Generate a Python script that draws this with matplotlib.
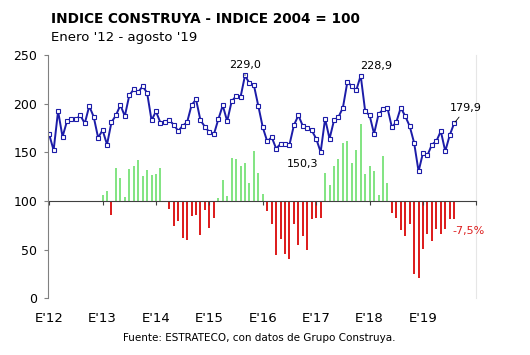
from matplotlib import pyplot as plt
import numpy as np

# Indice Construya, monthly, Jan 2012 .. Aug 2019
indice = [168.4, 152.2, 192.4, 166, 182, 183.8, 183.8, 188, 179.7, 197.5, 186.6, 165,
          172.8, 158, 181, 188, 198.6, 187.2, 208.6, 214.7, 212, 217.8, 211.3, 183,
          192, 180.4, 180.7, 183, 178.3, 172, 177.3, 181, 198.6, 204.4, 182.8, 176.3,
          170.7, 168.4, 183.8, 198.2, 182, 202.4, 207.8, 206.8, 229.0, 221, 219, 197.5,
          175.6, 161.2, 165.6, 153.9, 158.8, 158.8, 158, 178, 188, 177, 174.5, 172.5,
          164, 150.3, 184.5, 164, 182.8, 186.2, 195.9, 222.3, 218.1, 213.7, 228.9, 192.4,
          188, 169, 189, 194.1, 195.9, 175.9, 181, 195.9, 187.2, 177, 159.8, 130.5,
          149.5, 147, 158, 161.4, 171.8, 151.1, 167.6, 179.9]

# annual % change, Jan 2013 .. Aug 2019
var_anual = [2.3, 4.0, -5.8, 13.7, 9.3, 1.6, 13.2, 14.3, 16.8, 10.3, 12.8, 10.6, 11.0, 13.7,
             -0.2, -3.4, -10.3, -8.2, -15.1, -16.2, -6.2, -5.9, -14.0, -3.8, -11.3, -6.9,
             1.1, 8.7, 2.1, 17.5, 17.2, 14.4, 15.5, 7.3, 20.5, 11.7, 3.0,
             -4.1, -9.6, -22.3, -15.8, -21.6, -23.8, -9.6, -17.9, -14.4, -20.2, -7.3, -6.9, -6.9,
             11.4, 6.5, 14.4, 17.2, 23.8, 24.5, 15.5, 21.0, 31.6, 11.3, 14.4, 12.4, 2.3, 18.6, 7.3,
             -4.8, -7.1, -12.0, -14.4, -9.6, -30.2, -31.6, -19.9, -13.7, -16.5, -11.4, -13.7, -11.7, -7.6, -7.5]

year_labels = ["E'12", "E'13", "E'14", "E'15", "E'16", "E'17", "E'18", "E'19"]
# months (index into indice) that get a value label
labeled = [44, 70, 61, 91]

plt.rcParams['font.family'] = 'DejaVu Sans'

x_line = np.arange(len(indice))
x_bar = np.arange(12, 12 + len(var_anual))
bar_colors = ['#84e484' if v >= 0 else '#dd1f1f' for v in var_anual]

fig = plt.figure(figsize=(5.3, 3.55), dpi=100)
ax = fig.add_axes([0.0911, 0.1597, 0.8078, 0.6853])
ax2 = ax.twinx()

# bars on the hidden right axis, 0% lined up with 100 on the left
ax2.bar(x_bar, var_anual, width=0.45, color=bar_colors, linewidth=0)
ax2.set_ylim(-40, 60)
ax2.set_yticks([])
for s in ['top', 'left', 'bottom']:
    ax2.spines[s].set_visible(False)
ax2.spines['right'].set_color('#e6e6e6')

ax.set_zorder(ax2.get_zorder() + 1)
ax.patch.set_visible(False)

ax.plot(x_line, indice, '-', color='#1c1ca8', lw=1.4, marker='s', ms=2.5,
        mfc='white', mec='#1c1ca8', mew=0.8)

ax.set_ylim(0, 250)
ax.set_xlim(-0.2, 96)
ax.set_yticks([0, 50, 100, 150, 200, 250])
ax.tick_params(axis='y', direction='out', length=3, color='#808080', pad=5, labelsize=9)
ax.set_xticks(np.arange(0, 96, 12), year_labels)
ax.tick_params(axis='x', length=0, pad=10, labelsize=9.5)
for s in ['top', 'right', 'bottom']:
    ax.spines[s].set_visible(False)
ax.spines['left'].set_color('#808080')

# category axis crossing at 100
sec = ax.secondary_xaxis(100 / 250)
sec.set_xticks(np.arange(0, 97, 12), [])
sec.tick_params(direction='out', length=3, color='#404040')
sec.spines['bottom'].set_color('#404040')

offsets = {44: (0, 10), 70: (15, 10), 61: (-18, -12), 91: (12, 15)}
for m in labeled:
    v = indice[m]
    txt = ('%.1f' % v).replace('.', ',')
    line_props = None
    if m in (44, 91):
        line_props = dict(arrowstyle='-', color='black', lw=0.6, shrinkA=1, shrinkB=1)
    ax.annotate(txt, xy=(m, v), xytext=offsets[m], textcoords='offset pixels',
                ha='center', va='center', fontsize=8, arrowprops=line_props)

last = var_anual[-1]
ax2.annotate(('%.1f%%' % last).replace('.', ','), xy=(x_bar[-1], last), xytext=(14, -12),
             textcoords='offset pixels', ha='center', va='center', fontsize=8, color='#dd1f1f')

fig.text(0.096, 0.935, "INDICE CONSTRUYA - INDICE 2004 = 100", fontsize=9.8, fontweight='bold',
         ha='left', va='baseline')
fig.text(0.096, 0.885, "Enero '12 - agosto '19", fontsize=9.5, ha='left', va='baseline')
fig.text(0.49, 0.048, "Fuente: ESTRATECO, con datos de Grupo Construya.", fontsize=7.5,
         ha='center', va='center')

plt.savefig("out.png", dpi=100)
